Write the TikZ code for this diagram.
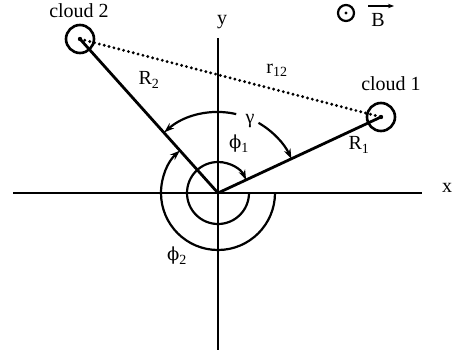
\documentclass[tikz,border=0pt]{standalone}
\usepackage{fontspec}
\setmainfont{Liberation Serif}
\newfontfamily\dvsphi{DejaVu Serif}
\usetikzlibrary{arrows.meta}
\begin{document}
\begin{tikzpicture}[x=1pt,y=1pt,
  lbl/.style={inner sep=0pt,font=\fontsize{20}{22}\selectfont},
  axis/.style={line width=2pt},
  radline/.style={line width=2.8pt},
  anglearc/.style={line width=2.2pt,-{Stealth[length=10pt,width=7pt]}},
  cloudc/.style={circle,draw,line width=2.6pt,minimum size=28pt,inner sep=0pt},
  sep/.style={line width=3.2pt,line cap=round,dash pattern=on 0pt off 5pt}]
\useasboundingbox (0,0) rectangle (453,-356);
% axes
\coordinate (O) at (218,-193);
\coordinate (xl) at (13,-193);
\coordinate (xr) at (422,-193);
\coordinate (yt) at (218,-38);
\coordinate (yb) at (218,-350);
\draw[axis] (xl) -- (xr);
\draw[axis] (yt) -- (yb);
\node[lbl] (xlab) at (447,-188) {x};
\node[lbl] (ylab) at (222,-22) {y};
% clouds
\node[cloudc] (c2) at (80,-39) {};
\node[cloudc] (c1) at (381,-117) {};
\fill (c2.center) circle (2.2pt);
\fill (c1.center) circle (2.2pt);
\node[lbl] (c2lab) at (79,-11) {cloud 2};
\node[lbl] (c1lab) at (391,-84) {cloud 1};
% lines
\draw[sep] (c2.center) -- (c1.center);
\draw[radline] (O) -- (c2.center);
\draw[radline] (O) -- (c1.center);
% angle arcs
\draw[anglearc] (O) ++(0:31) arc[start angle=0,end angle=-335,radius=31];
\draw[anglearc] (O) ++(0:57) arc[start angle=0,end angle=-228,radius=57];
\draw[anglearc] (O) ++(77:81) arc[start angle=77,end angle=131.5,radius=81];
\draw[anglearc] (O) ++(60:81) arc[start angle=60,end angle=25,radius=81];
% labels
\node[lbl] (r12) at (277,-70) {r\textsubscript{12}};
\node[lbl] (R2) at (149,-80) {R\textsubscript{2}};
\node[lbl] (R1) at (359,-145) {R\textsubscript{1}};
\node[lbl] (gam) at (250,-121) {γ};
\node[lbl] (phi1) at (239,-144) {{\dvsphi\fontsize{18}{20}\selectfont ϕ}\textsubscript{1}};
\node[lbl] (phi2) at (177,-256) {{\dvsphi\fontsize{18}{20}\selectfont ϕ}\textsubscript{2}};
% B field
\node[circle,draw,line width=2.2pt,minimum size=16pt,inner sep=0pt] (bc) at (346,-13) {};
\fill (bc.center) circle (1.6pt);
\node[lbl] (B) at (378,-20) {B};
\coordinate (ba) at (368,-6);
\coordinate (bb) at (394,-6);
\draw[line width=1.3pt,-{Stealth[length=6pt,width=4.5pt]}] (ba) -- (bb);
\end{tikzpicture}
\end{document}
